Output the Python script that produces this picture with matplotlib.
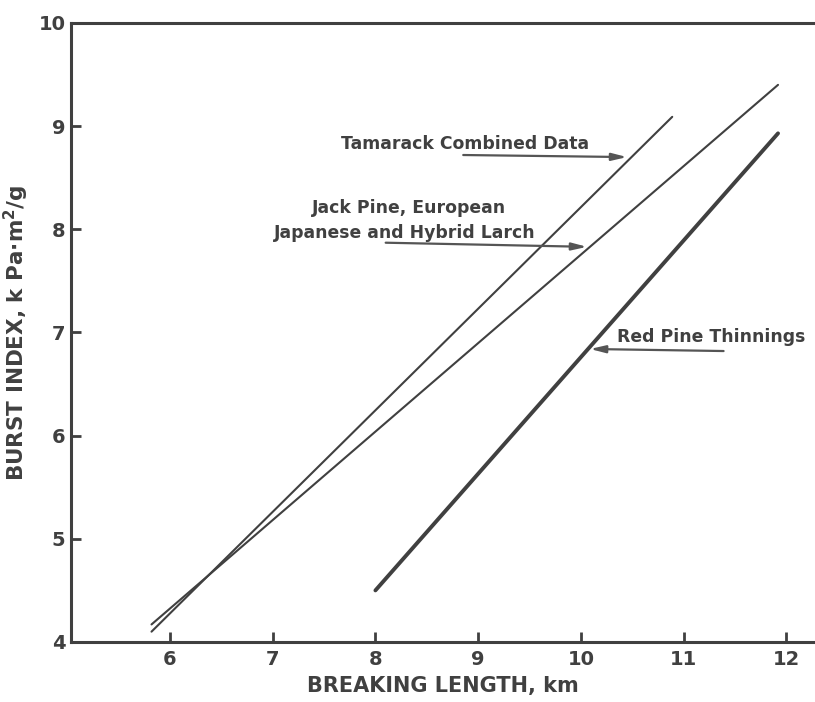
import matplotlib
matplotlib.use("Agg")
import matplotlib.pyplot as plt

plt.rcParams["font.family"] = ["DejaVu Sans"]
plt.rcParams["font.weight"] = "bold"
plt.rcParams["axes.labelweight"] = "bold"
plt.rcParams["mathtext.default"] = "bf"

INK = "#404040"

# regression lines, end points (breaking length km, burst index)
tamarack_x = [5.82, 10.89]
tamarack_y = [4.10, 9.09]
jack_x = [5.82, 11.92]
jack_y = [4.17, 9.40]
red_x = [8.0, 11.92]
red_y = [4.50, 8.93]

x_ticks = [6, 7, 8, 9, 10, 11, 12]
y_ticks = [4, 5, 6, 7, 8, 9, 10]

fig = plt.figure(figsize=(8.15, 7.02), dpi=100)
ax = fig.add_axes([0.0871, 0.0855, 1 - 0.0871, 0.8818])
ax.set_xlim(5.036, 12.28)
ax.set_ylim(4, 10)

ax.plot(tamarack_x, tamarack_y, color=INK, lw=1.5, solid_capstyle="round")
ax.plot(jack_x, jack_y, color=INK, lw=1.5, solid_capstyle="round")
ax.plot(red_x, red_y, color=INK, lw=2.8, solid_capstyle="round")

for side in ("left", "bottom", "top"):
    ax.spines[side].set_color(INK)
    ax.spines[side].set_linewidth(2.2)
ax.spines["right"].set_visible(False)

ax.set_xticks(x_ticks)
ax.set_yticks(y_ticks)
ax.tick_params(direction="in", length=7, width=2, color=INK,
               labelsize=14, labelcolor=INK, pad=6)
ax.tick_params(axis="y", pad=4)
# no tick mark at the corners
ax.yaxis.get_major_ticks()[0].tick1line.set_visible(False)
ax.yaxis.get_major_ticks()[-1].tick1line.set_visible(False)

ax.set_xlabel("BREAKING LENGTH, km", fontsize=15, color=INK, labelpad=5)
ax.set_ylabel(r"BURST INDEX, k Pa$\bullet$m$^{2}$/g", fontsize=15.5,
              color=INK, labelpad=5)

arrow = dict(arrowstyle="-|>,head_length=0.9,head_width=0.22",
             color="#555555", lw=1.6, shrinkA=0, shrinkB=0)
txt = dict(fontsize=12.4, color=INK, fontweight="bold")

ax.annotate("", xy=(10.45, 8.70), xytext=(8.855, 8.72), arrowprops=arrow)
ax.text(8.875, 8.78, "Tamarack Combined Data", ha="center", va="baseline", **txt)

ax.annotate("", xy=(10.06, 7.83), xytext=(8.10, 7.87), arrowprops=arrow)
ax.text(8.33, 8.16, "Jack Pine, European", ha="center", va="baseline", **txt)
ax.text(8.29, 7.92, "Japanese and Hybrid Larch", ha="center", va="baseline", **txt)

ax.annotate("", xy=(10.09, 6.84), xytext=(11.39, 6.82), arrowprops=arrow)
ax.text(11.27, 6.91, "Red Pine Thinnings", ha="center", va="baseline", **txt)

fig.savefig("out.png", dpi=100, facecolor="white")
